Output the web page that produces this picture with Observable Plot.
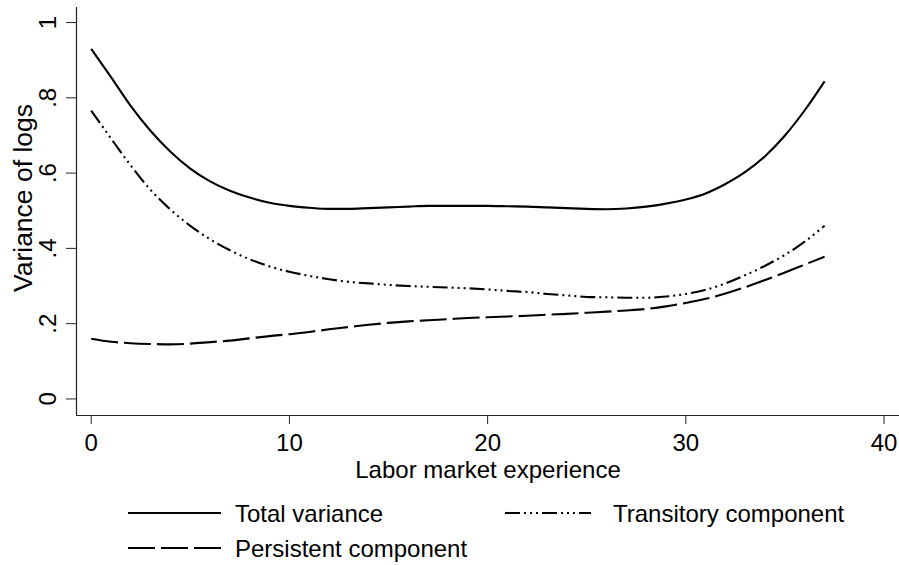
<!DOCTYPE html>
<html><head><meta charset="utf-8">
<script src="https://cdn.jsdelivr.net/npm/d3@7"></script>
<script src="https://cdn.jsdelivr.net/npm/@observablehq/plot@0.6"></script>
<style>
body{margin:0;background:#fff;font-family:"Liberation Sans",Arial,sans-serif;}
#wrap{position:relative;width:899px;height:565px;overflow:hidden;background:#fff}
#chart{position:absolute;left:0;top:0}
.leg{position:absolute;font-size:24px;line-height:24px;color:#000;white-space:nowrap}
#legsvg{position:absolute;left:0;top:490px}
</style></head><body><div id="wrap"><div id="chart"></div></div>
<script>
// ---- data ----
const experience = [0,1,2,3,4,5,6,7,8,9,10,11,12,13,14,15,16,17,18,19,20,21,22,23,24,25,26,27,28,29,30,31,32,33,34,35,36,37];
const totalVariance = [0.930,0.855,0.778,0.712,0.657,0.612,0.578,0.553,0.535,0.521,0.513,0.508,0.505,0.505,0.507,0.509,0.511,0.513,0.513,0.513,0.513,0.512,0.511,0.509,0.507,0.505,0.504,0.506,0.511,0.519,0.530,0.546,0.571,0.603,0.645,0.700,0.767,0.844];
const transitoryComponent = [0.766,0.692,0.620,0.555,0.503,0.460,0.424,0.395,0.371,0.352,0.338,0.327,0.318,0.311,0.307,0.303,0.300,0.298,0.296,0.294,0.291,0.287,0.284,0.279,0.275,0.271,0.270,0.269,0.269,0.272,0.279,0.290,0.307,0.329,0.354,0.383,0.418,0.460];
const persistentComponent = [0.160,0.152,0.148,0.146,0.145,0.147,0.151,0.155,0.161,0.167,0.172,0.178,0.185,0.191,0.197,0.202,0.206,0.209,0.212,0.215,0.217,0.219,0.221,0.224,0.226,0.229,0.232,0.235,0.239,0.246,0.255,0.266,0.280,0.297,0.316,0.336,0.357,0.378];
const seriesNames = ["Total variance","Transitory component","Persistent component"];
const yTicks = [0,0.2,0.4,0.6,0.8,1];
const yTickLabels = ["0",".2",".4",".6",".8","1"];
const xTicks = [0,10,20,30,40];
const xTitle = "Labor market experience";
const yTitle = "Variance of logs";

// ---- build table ----
const seriesValues = [totalVariance, transitoryComponent, persistentComponent];
const rows = [];
seriesNames.forEach((name, s) => experience.forEach((x, i) => rows.push({series: name, x, y: seriesValues[s][i]})));

const dashes = {
  "Total variance": null,
  "Transitory component": "15,4,2,4,2,4,2,4",
  "Persistent component": "27,6"
};

const xDomain = [-0.742, 40.78];
const yDomain = [-0.044, 1.04];
const font = "Liberation Sans, Arial, sans-serif";

const chart = Plot.plot({
  width: 899, height: 490,
  marginTop: 7, marginBottom: 75, marginLeft: 76, marginRight: 0,
  style: {fontFamily: font, fontSize: "24px", color: "#000", background: "#fff"},
  x: {domain: xDomain},
  y: {domain: yDomain},
  marks: [
    Plot.ruleX([xDomain[0]], {stroke: "#222", strokeWidth: 1.2}),
    Plot.ruleY([yDomain[0]], {stroke: "#222", strokeWidth: 1.2}),
    Plot.axisY({ticks: yTicks, tickFormat: d => yTickLabels[yTicks.indexOf(d)], tickSize: 10, tickPadding: 11, tickRotate: -90, fontSize: 24, label: null, stroke: "#222"}),
    Plot.axisX({ticks: xTicks, tickSize: 9, tickPadding: 9, fontSize: 24, label: xTitle, labelAnchor: "center", labelOffset: 62, labelArrow: "none", stroke: "#222"}),
    Plot.text([yTitle], {text: d => d, frameAnchor: "left", rotate: -90, dx: -63, dy: -13.5, textAnchor: "middle", lineAnchor: "top", fontSize: 26.5, fill: "#000"}),
    ...seriesNames.map(name => Plot.line(rows, {
      filter: d => d.series === name,
      x: "x", y: "y", stroke: "#000", strokeWidth: 2.1,
      strokeDasharray: dashes[name], strokeLinecap: "butt", curve: "monotone-x"
    }))
  ]
});
document.getElementById("chart").appendChild(chart);

// ---- legend (below the SVG) ----
const wrap = document.getElementById("wrap");
const legendItems = [
  {name: seriesNames[0], x1: 128, x2: 221, y: 513, tx: 235},
  {name: seriesNames[1], x1: 505, x2: 591, y: 513, tx: 613},
  {name: seriesNames[2], x1: 128, x2: 221, y: 548, tx: 235}
];
const ns = "http://www.w3.org/2000/svg";
const lsvg = document.createElementNS(ns, "svg");
lsvg.setAttribute("id", "legsvg");
lsvg.setAttribute("width", 899);
lsvg.setAttribute("height", 75);
legendItems.forEach(it => {
  const ln = document.createElementNS(ns, "line");
  ln.setAttribute("x1", it.x1); ln.setAttribute("x2", it.x2);
  ln.setAttribute("y1", it.y - 490); ln.setAttribute("y2", it.y - 490);
  ln.setAttribute("stroke", "#000"); ln.setAttribute("stroke-width", 2.1);
  if (dashes[it.name]) ln.setAttribute("stroke-dasharray", dashes[it.name]);
  lsvg.appendChild(ln);
  const t = document.createElement("div");
  t.className = "leg";
  t.textContent = it.name;
  t.style.left = it.tx + "px";
  t.style.top = (it.y - 11.5) + "px";
  wrap.appendChild(t);
});
wrap.appendChild(lsvg);
</script>
</body></html>
